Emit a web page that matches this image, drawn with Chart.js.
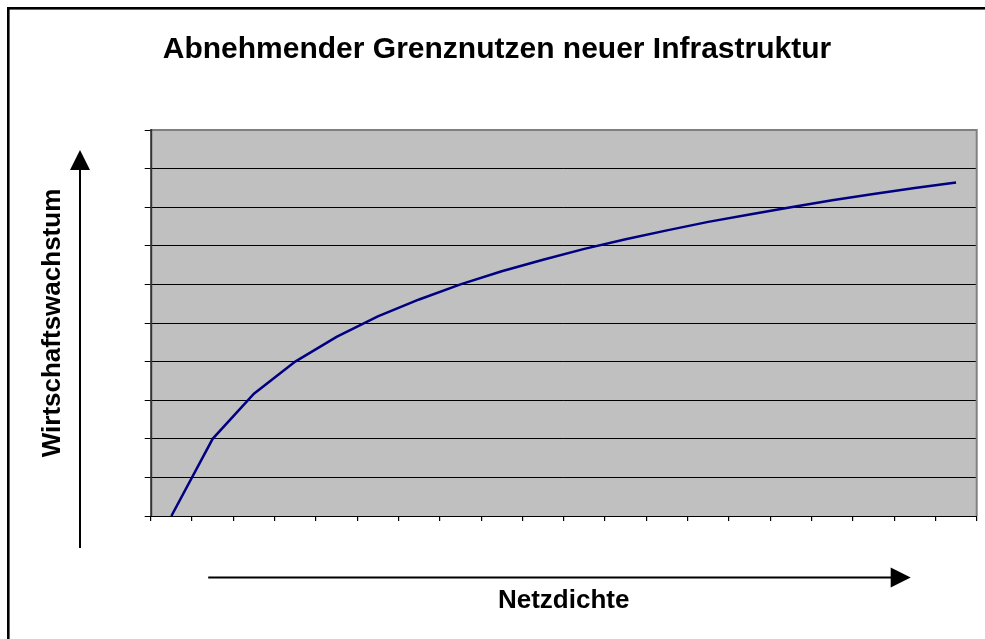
<!DOCTYPE html>
<html>
<head>
<meta charset="utf-8">
<script src="https://cdn.jsdelivr.net/npm/chart.js@4/dist/chart.umd.min.js"></script>
<style>
  html, body { margin: 0; padding: 0; background: #ffffff; }
  #wrap { position: relative; width: 985px; height: 639px; overflow: hidden; }
  canvas { display: block; }
</style>
</head>
<body>
<div id="wrap"><canvas id="c" width="985" height="639"></canvas></div>
<script>
// ---- data ----
const categories = ["1","2","3","4","5","6","7","8","9","10","11","12","13","14","15","16","17","18","19","20"];
const growthValues = [0, 2.0, 3.17, 4.0, 4.64, 5.17, 5.61, 6.0, 6.34, 6.64, 6.92, 7.17, 7.40, 7.62, 7.81, 8.0, 8.18, 8.34, 8.5, 8.64];
const yTickValues = [0, 1, 2, 3, 4, 5, 6, 7, 8, 9, 10];

const chartTitle = "Abnehmender Grenznutzen neuer Infrastruktur";
const xTitle = "Netzdichte";
const yTitle = "Wirtschaftswachstum";

const FONT = "'Liberation Sans', Arial, Helvetica, sans-serif";

const decoPlugin = {
  id: 'deco',
  beforeDraw(chart) {
    const {ctx, chartArea: a} = chart;
    ctx.save();
    ctx.fillStyle = '#ffffff';
    ctx.fillRect(0, 0, chart.width, chart.height);
    ctx.fillStyle = '#c0c0c0';
    ctx.fillRect(a.left, a.top, a.right - a.left, a.bottom - a.top);
    ctx.restore();
  },
  beforeDatasetsDraw(chart) {
    const {ctx, chartArea: a} = chart;
    ctx.save();
    ctx.strokeStyle = '#808080';
    ctx.lineWidth = 2;
    ctx.beginPath();
    ctx.moveTo(a.left, a.top);
    ctx.lineTo(a.right, a.top);
    ctx.lineTo(a.right, a.bottom);
    ctx.stroke();
    ctx.strokeStyle = '#333333';
    ctx.beginPath();
    ctx.moveTo(a.left + 0.5, a.top - 1);
    ctx.lineTo(a.left + 0.5, a.bottom);
    ctx.stroke();
    ctx.restore();
  },
  afterDraw(chart) {
    const {ctx, chartArea: a} = chart;
    ctx.save();
    // outer frame (top and left edges visible)
    ctx.fillStyle = '#000000';
    ctx.fillRect(7, 7, chart.width, 2.6);
    ctx.fillRect(7, 7, 2.6, chart.height);
    // vertical arrow
    const vx = 80;
    const vTop = a.top + 20, vBot = a.bottom + 32;
    ctx.strokeStyle = '#000000';
    ctx.lineWidth = 2;
    ctx.beginPath();
    ctx.moveTo(vx, vBot);
    ctx.lineTo(vx, vTop + 18);
    ctx.stroke();
    ctx.beginPath();
    ctx.moveTo(vx, vTop);
    ctx.lineTo(vx - 10, vTop + 20);
    ctx.lineTo(vx + 10, vTop + 20);
    ctx.closePath();
    ctx.fill();
    // horizontal arrow
    const hy = a.bottom + 61.5;
    const hL = a.left + 57.5, hR = a.right - 66;
    ctx.beginPath();
    ctx.moveTo(hL, hy);
    ctx.lineTo(hR - 18, hy);
    ctx.stroke();
    ctx.beginPath();
    ctx.moveTo(hR, hy);
    ctx.lineTo(hR - 20, hy - 10);
    ctx.lineTo(hR - 20, hy + 10);
    ctx.closePath();
    ctx.fill();
    ctx.restore();
  }
};

new Chart(document.getElementById('c'), {
  type: 'line',
  data: {
    labels: categories,
    datasets: [{
      label: yTitle,
      data: growthValues,
      borderColor: '#000080',
      backgroundColor: '#000080',
      borderWidth: 2.5,
      pointRadius: 0,
      tension: 0,
      fill: false,
      yAxisID: 'y'
    }]
  },
  options: {
    responsive: false,
    animation: false,
    devicePixelRatio: 1,
    layout: { padding: { left: 9, right: 0, top: 0, bottom: 0 } },
    plugins: {
      legend: { display: false },
      tooltip: { enabled: false },
      title: {
        display: true,
        text: chartTitle,
        color: '#000000',
        font: { family: FONT, size: 30, weight: 'bold', lineHeight: 1.2 },
        padding: { top: 31.5, bottom: 62.5 }
      }
    },
    scales: {
      x: {
        type: 'category',
        offset: true,
        grid: { display: true, offset: true, drawOnChartArea: false, drawTicks: true, tickLength: 5, color: '#000000', tickColor: '#000000', lineWidth: 1.2 },
        border: { display: true, color: '#000000', width: 1 },
        ticks: { display: false },
        title: {
          display: true,
          text: xTitle,
          color: '#000000',
          font: { family: FONT, size: 26, weight: 'bold', lineHeight: 1.2 },
          padding: { top: 0, bottom: 22.2 }
        },
        afterFit(s) { s.height = 123; }
      },
      y: {
        type: 'linear',
        position: 'left',
        min: 0,
        max: 10,
        afterBuildTicks(s) { s.ticks = yTickValues.map(v => ({ value: v })); },
        grid: { display: true, color: '#000000', lineWidth: 1, drawTicks: true, tickLength: 6, tickColor: '#000000' },
        border: { display: false },
        ticks: { display: false },
        title: {
          display: true,
          text: yTitle,
          color: '#000000',
          font: { family: FONT, size: 26, weight: 'bold', lineHeight: 1.2 },
          padding: { top: 28.4, bottom: 0 }
        },
        afterFit(s) { s.width = 141.7; }
      },
      yR: {
        type: 'linear',
        position: 'right',
        display: true,
        grid: { display: false },
        border: { display: false },
        ticks: { display: false },
        afterFit(s) { s.width = 8.3; }
      }
    }
  },
  plugins: [decoPlugin]
});
</script>
</body>
</html>
